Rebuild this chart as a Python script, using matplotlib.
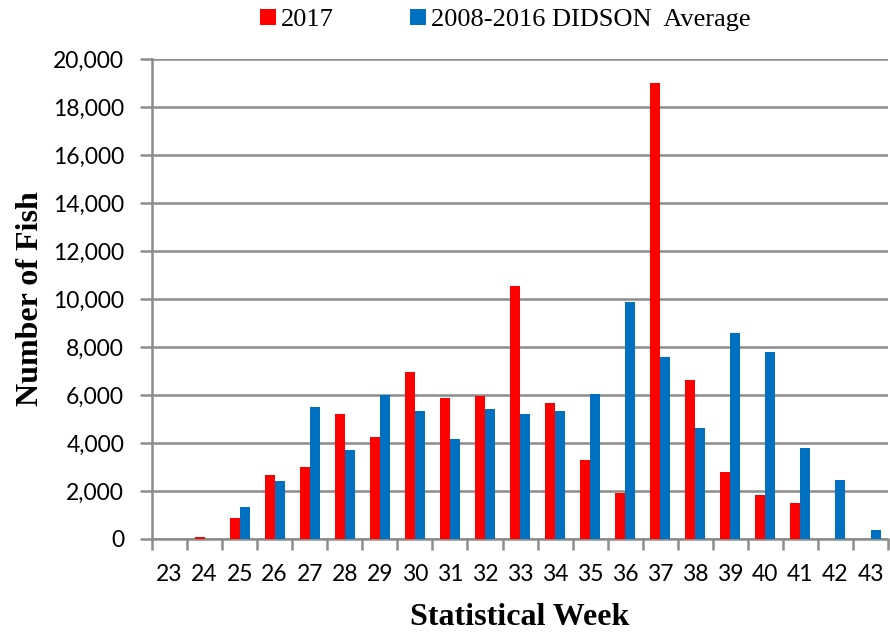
import numpy as np
import matplotlib

matplotlib.use('Agg')
import matplotlib.pyplot as plt
from matplotlib.ticker import FuncFormatter

weeks = list(range(23, 44))
fish_2017 = [0, 100, 870, 2650, 3010, 5190, 4260, 6960, 5875, 5960, 10540,
             5680, 3290, 1900, 19000, 6640, 2800, 1820, 1500, 0, 0]
fish_avg = [0, 0, 1320, 2400, 5510, 3700, 6000, 5330, 4180, 5400, 5190,
            5320, 6050, 9890, 7580, 4640, 8600, 7790, 3790, 2450, 375]

grid_col = '#8c8c8c'
serif = 'Liberation Serif'

fig = plt.figure(figsize=(8.9, 6.32), dpi=100)
ax = fig.add_axes([0.1708, 0.1472, 0.827, 0.7594])

x = np.arange(len(weeks))
w = 0.285
ax.bar(x - w / 2, fish_2017, width=w, color='#FF0000', label='2017', zorder=3)
ax.bar(x + w / 2, fish_avg, width=w, color='#0070C0',
       label='2008-2016 DIDSON  Average', zorder=3)

ax.set_xlim(-0.5, len(weeks) - 0.5)
ax.set_ylim(0, 20000)
ax.set_yticks(np.arange(0, 20001, 2000))
ax.yaxis.set_major_formatter(FuncFormatter(lambda v, p: f'{int(v):,}'))
ax.grid(axis='y', color=grid_col, linewidth=1.8, zorder=0)

# category boundaries get tick marks, labels sit at the centres
ax.set_xticks(np.arange(-0.5, len(weeks), 1.0))
ax.set_xticklabels([])
ax.set_xticks(x, minor=True)
ax.set_xticklabels([str(wk) for wk in weeks], minor=True)
ax.tick_params(axis='x', which='major', length=8, width=1.8, color=grid_col)
ax.tick_params(axis='x', which='minor', length=0, pad=18, labelsize=16.5)
ax.tick_params(axis='y', length=9, width=1.8, color=grid_col, pad=11,
               labelsize=16.5)
for lab in ax.get_xticklabels(minor=True) + ax.get_yticklabels():
    lab.set_fontfamily('Lato')

for s in ['top', 'right']:
    ax.spines[s].set_visible(False)
for s in ['left', 'bottom']:
    ax.spines[s].set_color(grid_col)
    ax.spines[s].set_linewidth(1.8)

ax.set_xlabel('Statistical Week', fontsize=23, fontweight='bold',
              family=serif, labelpad=13)
ax.set_ylabel('Number of Fish', fontsize=23, fontweight='bold',
              family=serif, labelpad=6)

ax.legend(loc='lower center', bbox_to_anchor=(0.48, 1.025), ncol=2,
          frameon=False, prop={'family': serif, 'size': 19},
          handlelength=0.6, handleheight=0.6, handletextpad=0.2,
          columnspacing=2.9, borderaxespad=0.2)

fig.savefig('out.png', dpi=100)
